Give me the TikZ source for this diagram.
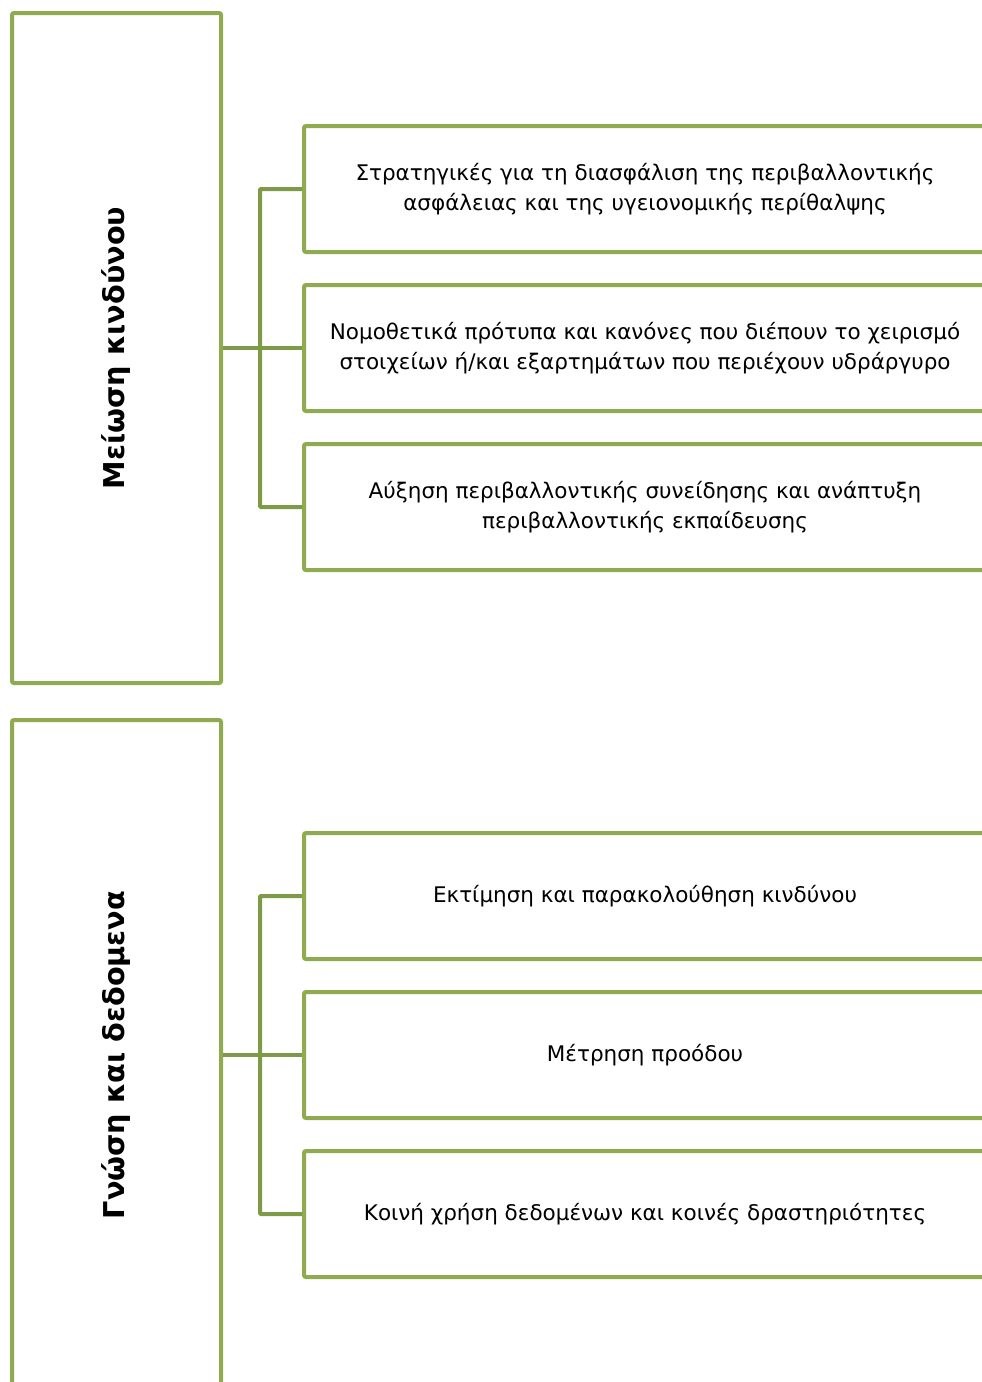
\documentclass[tikz,border=0pt]{standalone}
\usepackage{fontspec}
\setmainfont{DejaVu Sans}
\usetikzlibrary{positioning}

\definecolor{boxgreen}{HTML}{8EAB4F}
\definecolor{linkgreen}{HTML}{7D9A47}

\tikzset{
  catbox/.style={draw=boxgreen, line width=4pt, rounded corners=2pt, fill=white,
    minimum width=209pt, minimum height=670pt, inner sep=0pt},
  itembox/.style={draw=boxgreen, line width=4pt, rounded corners=2pt, fill=white,
    minimum width=682pt, minimum height=126pt, inner sep=0pt,
    align=center, font=\fontsize{21.5}{29.5}\selectfont},
  cattext/.style={rotate=90, font=\fontsize{28.7}{30}\selectfont\bfseries},
  link/.style={draw=linkgreen, line width=4pt, rounded corners=1pt},
}

\begin{document}
\begin{tikzpicture}[x=1pt,y=-1pt]
\useasboundingbox (0,0) rectangle (982,1382);
\clip (0,0) rectangle (982,1382);

% first group
\node[catbox] (risk) at (116.5,348) {};
\node[cattext] at (risk.center) {Μείωση κινδύνου};

\node[itembox] (r1) at (645,189) {Στρατηγικές για τη διασφάλιση της περιβαλλοντικής\\ασφάλειας και της υγειονομικής περίθαλψης};
\node[itembox, below=29pt of r1] (r2) {Νομοθετικά πρότυπα και κανόνες που διέπουν το χειρισμό\\στοιχείων ή/και εξαρτημάτων που περιέχουν υδράργυρο};
\node[itembox, below=29pt of r2] (r3) {Αύξηση περιβαλλοντικής συνείδησης και ανάπτυξη\\περιβαλλοντικής εκπαίδευσης};

\draw[link] (risk.east |- r2.west) -- (r2.west);
\draw[link] (r1.west) -- ++(-42,0) |- (r3.west);

% second group
\node[catbox] (know) at (116.5,1055) {};
\node[cattext] at (know.center) {Γνώση και δεδομενα};

\node[itembox] (k1) at (645,896) {Εκτίμηση και παρακολούθηση κινδύνου};
\node[itembox, below=29pt of k1] (k2) {Μέτρηση προόδου};
\node[itembox, below=29pt of k2] (k3) {Κοινή χρήση δεδομένων και κοινές δραστηριότητες};

\draw[link] (know.east |- k2.west) -- (k2.west);
\draw[link] (k1.west) -- ++(-42,0) |- (k3.west);
\end{tikzpicture}
\end{document}
